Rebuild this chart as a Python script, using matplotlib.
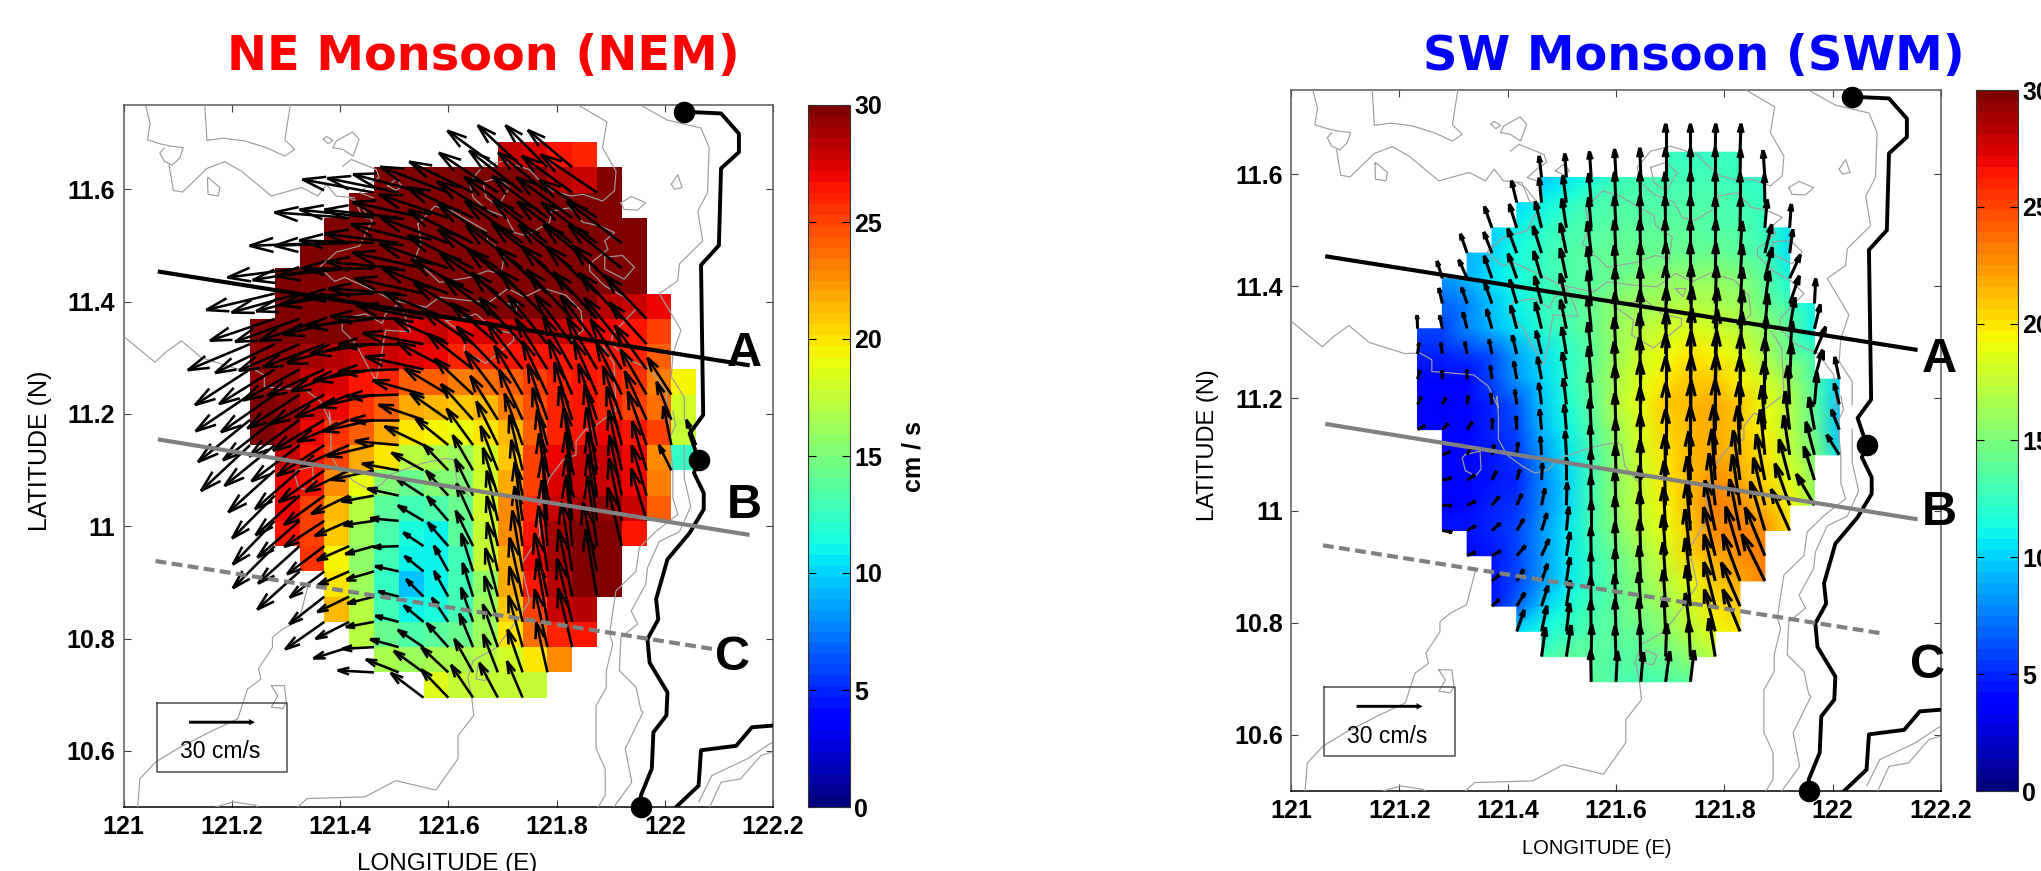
import matplotlib
matplotlib.use("Agg")
import matplotlib.pyplot as plt
import numpy as np
from matplotlib.collections import LineCollection
from matplotlib.tri import Triangulation

# grid of the HF radar currents
lon_first = 121.2336
lon_step = 0.0458
lat_first = 10.6947
lat_step = 0.04497
n_lon = 19
n_lat = 22

# first filled column of each row, south to north
row_start = [7, 5, 4, 3, 3, 2, 1, 1, 1, 1, 0, 0, 0, 0, 0, 1, 1, 2, 3, 4, 5, 10]

# speed in cm/s, bearing in degrees clockwise from north
nem_speed = [
    [18.5, 17.5, 17.5, 17.5, 17.5],
    [16.5, 16, 16.5, 16.5, 17, 18, 20, 22.5],
    [17, 14.5, 13.5, 14, 14.5, 16, 20, 23.5, 26, 26.5],
    [21.5, 17, 13, 11, 11.5, 13, 16, 21, 25, 28, 28.5],
    [20, 16, 12.5, 9.5, 11, 13, 15.5, 22, 26.5, 28.5, 30, 30],
    [25.5, 19.5, 15.5, 13, 11, 11, 13, 17.5, 22, 27, 29, 31, 31],
    [26.5, 25, 21, 16, 13.5, 11.5, 11, 14, 17.5, 22.5, 26.5, 29, 31, 31, 26.5],
    [27, 25, 21.5, 17, 14, 13, 13.5, 14.5, 18, 22.5, 26, 28, 29, 29.5, 28, 24],
    [27, 26.5, 22.5, 19, 15, 14.5, 15, 15, 18, 22, 25, 27.5, 28, 28, 27, 23],
    [28, 26.5, 25, 22, 20, 17, 16.5, 16, 18, 21, 25, 27, 28, 28, 27, 22.5, 12.5],
    [30, 29, 27, 25.5, 24, 22, 20, 19.5, 19, 20, 21.5, 24, 26, 26.5, 27, 26.5, 25, 17.5, 12],
    [30, 29.5, 28, 27, 25.5, 24, 22, 21.5, 21, 21.5, 23, 24.5, 26, 26.5, 26, 25, 23.5, 18],
    [29.5, 29.5, 28, 27.5, 26.5, 26, 24, 24, 23, 23.5, 24, 25, 26, 26.5, 26, 25.5, 23, 19.5],
    [29.5, 29.5, 29, 28.5, 28, 28, 27.5, 27, 26, 26, 26.5, 26.5, 26.5, 26.5, 26.5, 26, 24],
    [30.5, 30, 30, 30, 29.5, 29, 27.5, 28, 27, 27.5, 28, 28.5, 28, 27.5, 27, 26.5, 25],
    [31, 31, 31, 31, 31, 31, 31, 31, 31, 31, 31, 31, 30, 28.5, 28, 27],
    [32, 32, 32, 32, 32, 32, 32, 32, 32, 32, 32, 31, 31, 31, 31],
    [33, 33, 33, 33, 33, 33, 33, 33, 32, 32, 32, 31, 31, 31],
    [34, 34, 34, 34, 34, 33, 33, 32, 32, 31, 31, 31, 31],
    [34, 34, 34, 33, 33, 33, 32, 32, 31, 31, 31],
    [33, 33, 33, 33, 32, 32, 30.5, 28.5, 28, 30.5],
    [28, 27.5, 26.5, 26],
]
nem_dir = [
    [-54, -45, -35, -29, -24],
    [-87, -69, -55, -48, -30, -22, -20, -13],
    [-107, -93, -75, -57, -43, -23, -20, -16, -13, -14],
    [-124, -116, -100, -76, -51, -35, -20, -17, -14, -10, -14],
    [-127, -115, -104, -76, -46, -30, -18, -15, -13, -12, -12, -10],
    [-131, -126, -113, -106, -78, -52, -30, -18, -13, -10, -8, -9, -12],
    [-134, -131, -126, -113, -105, -92, -57, -42, -27, -13, -8, -5, -5, -8, -14],
    [-135, -130, -122, -113, -98, -85, -60, -42, -25, -13, -8, -5, -5, -8, -12, -17],
    [-134, -131, -125, -115, -100, -78, -58, -43, -27, -18, -12, -8, -6, -9, -12, -17],
    [-131, -130, -124, -115, -102, -80, -62, -45, -31, -22, -14, -10, -8, -10, -13, -17, -27],
    [-132, -128, -126, -122, -113, -103, -85, -65, -52, -37, -27, -20, -15, -13, -12, -15, -20, -12, -22],
    [-128, -127, -125, -120, -112, -102, -90, -72, -56, -43, -33, -26, -20, -18, -19, -20, -25, -22],
    [-123, -124, -122, -118, -112, -102, -92, -75, -60, -48, -38, -31, -26, -24, -24, -27, -31, -34],
    [-122, -121, -118, -114, -110, -100, -92, -78, -63, -53, -45, -38, -33, -30, -31, -33, -37],
    [-112, -115, -113, -110, -106, -98, -90, -80, -66, -57, -50, -44, -40, -38, -38, -40, -43],
    [-108, -109, -108, -103, -96, -88, -79, -69, -60, -54, -49, -46, -44, -44, -44, -45],
    [-103, -105, -104, -99, -92, -86, -78, -70, -62, -56, -52, -49, -48, -48, -47],
    [-97, -99, -96, -90, -85, -78, -71, -64, -58, -54, -52, -52, -52, -52],
    [-92, -92, -88, -83, -76, -70, -64, -58, -55, -53, -54, -55, -54],
    [-86, -84, -84, -78, -72, -66, -60, -56, -54, -55, -58],
    [-80, -79, -76, -70, -65, -57, -53, -52, -55, -57],
    [-55, -48, -46, -51],
]

swm_speed = [
    [14, 13.5, 13, 13.5, 14],
    [13, 14, 14, 13.5, 14, 14.5, 15.5, 17],
    [10, 11.5, 12.5, 13.5, 14, 14.5, 15.5, 17, 19, 20],
    [4.5, 7, 9.5, 11.5, 13, 14, 15, 16, 18, 20, 21],
    [4.5, 6, 8, 10.5, 12.5, 14, 15.5, 17, 19, 21, 22, 23],
    [4.2, 4.5, 6, 8, 10.5, 12.5, 14.5, 16, 18, 20.5, 22, 22.5, 23],
    [4.5, 4.5, 5, 6, 8, 10.5, 13, 15, 17, 19, 21, 22.5, 23, 22.5, 20],
    [4.2, 4.2, 5, 5.5, 7.5, 10, 13, 15.5, 17.5, 19.5, 21.5, 23, 22.5, 21.5, 19.5, 16],
    [4.2, 4.2, 4.5, 5, 7.5, 10, 13, 15.5, 17.5, 20, 21.5, 22.5, 22, 20.5, 18.5, 15.5],
    [3.8, 3.8, 4.5, 5.5, 8, 10.5, 13, 15.5, 18, 20, 21.5, 22, 21.5, 20, 17.5, 15, 10.5],
    [3.8, 3.8, 4.2, 5, 6, 9, 11, 13.5, 16, 18.5, 20.5, 21.5, 22, 21, 19.5, 17, 14.5, 9.5],
    [3.8, 3.5, 3.8, 5, 6.5, 9.5, 11.5, 14, 17, 19, 21, 21.5, 22, 21, 19, 17, 14, 9.5],
    [4.2, 3.8, 4.2, 6, 8, 10, 12, 14.5, 16.5, 18.5, 20, 21, 21, 19.5, 18, 16, 13.5, 10],
    [5, 5, 5.5, 6.5, 8.5, 10.5, 12, 14, 16, 18, 19, 20, 19.5, 18.5, 16.5, 14.5, 13],
    [6, 6, 7.5, 9, 10.5, 12, 13, 14.5, 16, 17, 18, 18.5, 18, 17, 15.5, 14, 11],
    [7, 7.5, 9.5, 11, 12.5, 13.5, 14.5, 15.5, 16, 16.5, 17, 16.5, 16, 14.5, 13, 11],
    [8, 9, 10.5, 11.5, 12.5, 13.5, 14, 14.5, 15, 15.5, 15.5, 15.5, 15, 14, 11.5],
    [9, 10, 11.5, 12.5, 13.5, 14, 14.5, 14.5, 14.5, 14.5, 14.5, 14, 13, 10.5],
    [10, 11, 12, 13, 13.5, 14, 14, 14, 14, 13.5, 13.5, 12.5, 10.5],
    [10, 11, 12, 13, 13.5, 13.5, 13.5, 13.5, 13.5, 13, 12.5],
    [9.5, 10.5, 11.5, 12.5, 13, 13, 13, 13, 12.5, 12],
    [12.5, 12.5, 12.5, 12.5],
]
swm_dir = [
    [-1, 3, 5, 8, 7],
    [8, 9, 1, -2, -2, 2, -3, -10],
    [20, 12, 7, -1, -2, -4, -3, -8, -15, -23],
    [48, 32, 18, 9, -1, -3, -4, -4, -6, -15, -24],
    [52, 32, 20, 9, -1, -2, -3, -4, -7, -14, -21, -27],
    [68, 62, 42, 25, 9, -1, -2, -2, -4, -7, -14, -17, -23],
    [100, 62, 50, 32, 18, 6, 0, -2, -2, -3, -5, -12, -12, -17, -25],
    [92, 65, 40, 25, 12, 2, -1, -2, -2, -2, -4, -7, -9, -14, -20, -31],
    [78, 57, 27, 17, 3, 0, -1, -1, -1, -1, -2, -4, -8, -11, -15, -18],
    [68, 28, 13, 6, -4, -3, -2, -1, -1, 0, 0, -2, -3, -6, -9, -15, -33],
    [62, 45, 35, 3, -3, -6, -5, -3, -2, -1, 0, 1, 0, -1, -4, -7, -10, -22],
    [28, 28, 8, -6, -8, -8, -7, -4, -2, -1, 0, 1, 1, 0, -1, -3, 5, -14],
    [15, -2, -2, -7, -10, -11, -9, -5, -3, -2, 0, 1, 2, 1, 0, 3, 16, -12],
    [8, -8, -12, -12, -14, -14, -10, -6, -3, -2, 1, 2, 3, 3, 2, 5, 23],
    [-2, -12, -15, -16, -15, -14, -12, -6, -2, -1, 1, 2, 3, 4, 5, 10, 14],
    [-13, -20, -20, -17, -15, -12, -6, -2, -1, 0, 1, 2, 4, 8, 20, 3],
    [-18, -25, -20, -20, -17, -12, -7, -3, -1, 0, 0, 1, 4, 14, 25],
    [-20, -22, -21, -18, -12, -7, -3, -2, -1, 0, 1, 4, 14, 8],
    [-20, -18, -14, -9, -5, -3, -2, -1, 0, 0, 1, 5, 4],
    [-14, -6, -8, -5, -3, -2, -1, 0, 0, 0, -1],
    [-7, -4, -4, -3, -2, 0, 0, 0, 1, -4],
    [0, 0, 1, 2],
]

# thin grey depth contours, lon then lat
contours = [
    ([121.150, 121.154, 121.184, 121.224, 121.264, 121.298, 121.316, 121.298, 121.308],
     [11.75, 11.687, 11.691, 11.686, 11.674, 11.659, 11.671, 11.688, 11.75]),
    ([121.041, 121.049, 121.044, 121.067, 121.086, 121.110, 121.104, 121.090, 121.075, 121.067, 121.075],
     [11.748, 11.717, 11.688, 11.681, 11.677, 11.674, 11.656, 11.643, 11.650, 11.665, 11.673]),
    ([121.084, 121.092, 121.109, 121.154, 121.187, 121.218, 121.273, 121.329, 121.359, 121.375, 121.392, 121.426, 121.441, 121.459],
     [11.643, 11.598, 11.595, 11.637, 11.649, 11.632, 11.588, 11.603, 11.588, 11.609, 11.588, 11.585, 11.550, 11.547]),
    ([121.416, 121.433, 121.459, 121.436, 121.393, 121.362, 121.390, 121.409, 121.461, 121.498, 121.559, 121.584, 121.633, 121.676, 121.710, 121.741, 121.775, 121.818, 121.845, 121.849, 121.827],
     [11.585, 11.576, 11.544, 11.499, 11.488, 11.461, 11.436, 11.443, 11.420, 11.402, 11.390, 11.408, 11.402, 11.399, 11.423, 11.408, 11.424, 11.411, 11.384, 11.349, 11.331]),
    ([121.544, 121.575, 121.608, 121.621, 121.670, 121.673, 121.704, 121.698, 121.673, 121.639, 121.603, 121.584, 121.538, 121.550, 121.544],
     [11.538, 11.570, 11.561, 11.553, 11.526, 11.508, 11.488, 11.449, 11.455, 11.443, 11.437, 11.434, 11.476, 11.505, 11.538]),
    ([121.84, 121.893, 121.885, 121.910, 121.907, 121.885, 121.849, 121.827, 121.793, 121.766, 121.750, 121.701, 121.664, 121.639, 121.646, 121.670, 121.707, 121.722, 121.744, 121.787, 121.790, 121.824, 121.849, 121.879, 121.907, 121.889, 121.895, 121.861, 121.861, 121.889, 121.925, 121.947, 121.904, 121.901, 121.935, 121.972, 122.002, 122.008],
     [11.75, 11.72, 11.674, 11.632, 11.597, 11.579, 11.591, 11.588, 11.597, 11.618, 11.635, 11.650, 11.641, 11.612, 11.585, 11.564, 11.550, 11.523, 11.517, 11.541, 11.561, 11.567, 11.541, 11.535, 11.523, 11.508, 11.493, 11.467, 11.455, 11.428, 11.408, 11.387, 11.343, 11.325, 11.295, 11.281, 11.242, 11.177]),
    ([121.664, 121.692, 121.713, 121.692, 121.670, 121.664], [11.612, 11.621, 11.603, 11.570, 11.585, 11.612]),
    ([121.889, 121.922, 121.944, 121.925, 121.889, 121.889], [11.479, 11.482, 11.461, 11.440, 11.458, 11.479]),
    ([121.919, 121.938, 121.965, 121.950, 121.925, 121.919], [11.576, 11.587, 11.576, 11.563, 11.564, 11.576]),
    ([122.012, 122.024, 122.032, 122.018, 122.012], [11.609, 11.626, 11.603, 11.600, 11.609]),
    ([121.710, 121.729, 121.724, 121.710], [11.396, 11.396, 11.381, 11.396]),
    ([121.369, 121.375, 121.387, 121.378, 121.369], [11.689, 11.694, 11.687, 11.681, 11.689]),
    ([121.387, 121.393, 121.423, 121.435, 121.424, 121.405, 121.387], [11.674, 11.686, 11.702, 11.689, 11.659, 11.671, 11.674]),
    ([121.405, 121.421, 121.467, 121.472, 121.458, 121.436, 121.461], [11.641, 11.653, 11.635, 11.621, 11.612, 11.594, 11.585]),
    ([121.488, 121.504, 121.514, 121.504, 121.488], [11.606, 11.618, 11.606, 11.598, 11.606]),
    ([121.155, 121.156, 121.178, 121.175, 121.156, 121.155], [11.618, 11.621, 11.603, 11.588, 11.591, 11.618]),
    ([121.959, 122.005, 122.067, 122.082, 122.079, 122.061, 122.070, 122.027, 122.024, 121.990, 122.030, 122.015, 122.012, 122.036, 122.036],
     [11.748, 11.723, 11.709, 11.674, 11.594, 11.561, 11.508, 11.467, 11.437, 11.414, 11.349, 11.307, 11.266, 11.230, 11.189]),
    ([122.015, 122.020, 122.009, 122.015, 122.015, 122.024, 121.984, 121.953, 121.947, 121.910, 121.904, 121.898, 121.904, 121.892, 121.892, 121.873, 121.873, 121.89, 121.89, 121.877],
     [11.204, 11.180, 11.157, 11.100, 11.050, 11.021, 10.991, 10.962, 10.920, 10.885, 10.849, 10.808, 10.790, 10.743, 10.713, 10.680, 10.604, 10.568, 10.521, 10.5]),
    ([122.036, 122.036, 122.048, 122.027, 121.990, 121.968, 121.965, 121.938, 121.950, 121.919, 121.916, 121.947, 121.956, 121.96, 121.927, 121.939, 121.906],
     [11.145, 11.086, 11.035, 10.990, 10.973, 10.926, 10.897, 10.849, 10.826, 10.802, 10.743, 10.713, 10.672, 10.669, 10.604, 10.544, 10.5]),
    ([121.026, 121.030, 121.059, 121.100, 121.158, 121.211, 121.217, 121.229, 121.254, 121.249, 121.275, 121.275, 121.294, 121.324, 121.340],
     [10.5, 10.550, 10.580, 10.604, 10.633, 10.657, 10.675, 10.710, 10.728, 10.746, 10.784, 10.802, 10.817, 10.832, 10.891]),
    ([121.322, 121.316, 121.322, 121.341, 121.351, 121.349, 121.322], [11.100, 11.094, 11.071, 11.062, 11.074, 11.106, 11.100]),
    ([121.0, 121.058, 121.078, 121.107, 121.144, 121.21, 121.238, 121.260, 121.260, 121.300, 121.337, 121.364, 121.383, 121.380, 121.383, 121.383, 121.398, 121.426, 121.450, 121.475, 121.493, 121.552, 121.595, 121.610, 121.616, 121.638],
     [11.338, 11.292, 11.31, 11.33, 11.30, 11.28, 11.281, 11.269, 11.248, 11.245, 11.242, 11.222, 11.183, 11.204, 11.168, 11.127, 11.100, 11.080, 11.067, 11.073, 11.092, 11.112, 11.121, 11.118, 11.080, 11.053]),
    ([121.404, 121.413, 121.447, 121.478, 121.484, 121.509, 121.521, 121.530, 121.484, 121.481, 121.475, 121.466, 121.448, 121.429, 121.404, 121.404],
     [11.366, 11.372, 11.378, 11.361, 11.378, 11.396, 11.372, 11.346, 11.349, 11.331, 11.295, 11.260, 11.290, 11.325, 11.349, 11.366]),
    ([121.595, 121.632, 121.629, 121.669, 121.706, 121.721, 121.721, 121.687, 121.651, 121.632, 121.595],
     [11.366, 11.340, 11.313, 11.290, 11.319, 11.331, 11.343, 11.349, 11.378, 11.372, 11.366]),
    ([121.886, 121.906, 121.91, 121.861, 121.855, 121.836, 121.836, 121.812, 121.787, 121.766, 121.769, 121.735, 121.750, 121.726, 121.689, 121.646, 121.636, 121.643, 121.647, 121.618, 121.618, 121.577, 121.503, 121.446, 121.339, 121.322],
     [11.32, 11.29, 11.207, 11.171, 11.174, 11.151, 11.127, 11.118, 11.086, 11.033, 10.985, 10.932, 10.867, 10.831, 10.784, 10.761, 10.731, 10.698, 10.663, 10.627, 10.586, 10.530, 10.547, 10.518, 10.515, 10.5]),
    ([121.655, 121.676, 121.668, 121.651, 121.655], [10.751, 10.742, 10.725, 10.728, 10.751]),
    ([121.17, 121.203, 121.244, 121.248], [10.5, 10.509, 10.503, 10.5]),
    ([121.273, 121.297, 121.301, 121.294, 121.273, 121.285, 121.273], [10.716, 10.716, 10.686, 10.675, 10.678, 10.698, 10.716]),
    ([122.063, 122.087, 122.153, 122.198], [10.509, 10.556, 10.586, 10.615]),
    ([122.083, 122.104, 122.14, 122.178, 122.2], [10.5, 10.544, 10.55, 10.592, 10.598]),
]

# thick black 0 m line
coast_lon = [122.036, 122.104, 122.137, 122.137, 122.104, 122.100, 122.067, 122.071, 122.046, 122.0625, 122.054, 122.072, 122.072, 122.046, 122.005, 121.984, 121.988, 121.968, 121.972, 122.005, 122.003, 121.979, 121.976, 121.956, 121.956]
coast_lat = [11.738, 11.735, 11.699, 11.666, 11.637, 11.5, 11.465, 11.198, 11.165, 11.118, 11.095, 11.059, 11.03, 10.988, 10.941, 10.87, 10.834, 10.799, 10.757, 10.704, 10.663, 10.633, 10.568, 10.521, 10.5]
south_lon = [122.021, 122.0625, 122.067, 122.132, 122.161, 122.2]
south_lat = [10.5, 10.538, 10.601, 10.609, 10.642, 10.645]
station_lon = [122.036, 122.0625, 121.956]
station_lat = [11.738, 11.117, 10.5]

# sections
sec_lon = [121.067, 122.153]
sec_a_lat = [11.453, 11.287]
sec_b_lat = [11.154, 10.985]
sec_c_lon = [121.059, 122.091]
sec_c_lat = [10.938, 10.781]

x_ticks = [121, 121.2, 121.4, 121.6, 121.8, 122, 122.2]
x_labels = ["121", "121.2", "121.4", "121.6", "121.8", "122", "122.2"]
y_ticks = [10.6, 10.8, 11, 11.2, 11.4, 11.6]
y_labels = ["10.6", "10.8", "11", "11.2", "11.4", "11.6"]
bar_ticks = [0, 5, 10, 15, 20, 25, 30]

WIDTH = 2041
HEIGHT = 871
DEG_PER_CMS = 0.122 / 30
cmap = plt.get_cmap("jet", 64)

plt.rcParams["font.family"] = ["Liberation Sans", "DejaVu Sans"]


def to_grid(rows):
    grid = np.full((n_lat, n_lon), np.nan)
    for j, row in enumerate(rows):
        grid[j, row_start[j]:row_start[j] + len(row)] = row
    return grid


def px_axes(fig, x0, y0, x1, y1):
    return fig.add_axes([x0 / WIDTH, 1 - y1 / HEIGHT, (x1 - x0) / WIDTH, (y1 - y0) / HEIGHT])


def draw_arrows(ax, speed, bearing, lw):
    lon = lon_first + lon_step * np.arange(n_lon)
    lat = lat_first + lat_step * np.arange(n_lat)
    segs = []
    for j in range(n_lat):
        for i in range(n_lon):
            if np.isnan(speed[j, i]):
                continue
            b = np.radians(bearing[j, i])
            dx = speed[j, i] * np.sin(b) * DEG_PER_CMS
            dy = speed[j, i] * np.cos(b) * DEG_PER_CMS
            tip = (lon[i] + dx, lat[j] + dy)
            segs.append([(lon[i], lat[j]), tip])
            for side in (-1, 1):
                a = np.radians(16) * side
                bx = -0.33 * (dx * np.cos(a) - dy * np.sin(a))
                by = -0.33 * (dx * np.sin(a) + dy * np.cos(a))
                segs.append([tip, (tip[0] + bx, tip[1] + by)])
    ax.add_collection(LineCollection(segs, colors="k", linewidths=lw, zorder=4))


def base_map(ax):
    for c_lon, c_lat in contours:
        ax.plot(c_lon, c_lat, color="0.62", lw=0.85, zorder=3)
    ax.plot(coast_lon, coast_lat, color="k", lw=2.8, zorder=5)
    ax.plot(south_lon, south_lat, color="k", lw=2.8, zorder=5)
    ax.plot(station_lon, station_lat, "o", color="k", ms=14.5, clip_on=False, zorder=7)
    ax.plot(sec_lon, sec_a_lat, color="k", lw=3, zorder=6)
    ax.plot(sec_lon, sec_b_lat, color="0.5", lw=3, zorder=6)
    ax.plot(sec_c_lon, sec_c_lat, color="0.5", lw=3, ls=(0, (2.6, 1.3)), zorder=6)
    ax.plot([121.061, 121.302, 121.302, 121.061, 121.061], [10.686, 10.686, 10.562, 10.562, 10.686],
            color="0.3", lw=1.1, zorder=5)
    ax.quiver([121.121], [10.651], [30], [0], angles="xy", scale_units="xy", scale=1 / DEG_PER_CMS,
              width=0.0045, headwidth=2.2, headlength=2.2, headaxislength=2, color="k", zorder=6)
    ax.text(121.178, 10.598, "30 cm/s", ha="center", va="center", fontsize=16.5, zorder=6)
    ax.set_xlim(121, 122.2)
    ax.set_ylim(10.5, 11.75)
    ax.set_xticks(x_ticks)
    ax.set_xticklabels(x_labels, fontsize=18, fontweight="bold")
    ax.set_yticks(y_ticks)
    ax.set_yticklabels(y_labels, fontsize=18, fontweight="bold")
    ax.tick_params(direction="in", length=5, width=0.8, top=True, right=True, color="0.25", pad=6)
    for s in ax.spines.values():
        s.set_color("0.35")
        s.set_linewidth(1.1)
    ax.spines["bottom"].set_color("k")


def colorbar(fig, cax, mesh):
    cb = fig.colorbar(mesh, cax=cax)
    cb.set_ticks(bar_ticks)
    cb.ax.set_yticklabels([str(t) for t in bar_ticks], fontsize=18, fontweight="bold")
    cb.ax.tick_params(direction="in", length=6, width=0.8, left=True, right=True, color="k", pad=3)
    cb.outline.set_edgecolor("0.2")
    return cb


def section_label(ax, lon, lat, name):
    ax.text(lon, lat, name, fontsize=35, fontweight="bold", ha="center", va="center", zorder=8, clip_on=False)


fig = plt.figure(figsize=(WIDTH / 100, HEIGHT / 100), dpi=100, facecolor="white")

# NE monsoon, flat cells
ax1 = px_axes(fig, 123.6, 105, 773, 807)
speed1 = to_grid(nem_speed)
dir1 = to_grid(nem_dir)
lon_edges = lon_first + lon_step * np.arange(n_lon)
lat_edges = lat_first + lat_step * np.arange(n_lat + 1)
mesh1 = ax1.pcolormesh(lon_edges, lat_edges, np.ma.masked_invalid(speed1[:, :-1]), cmap=cmap,
                       vmin=0, vmax=30, zorder=1)
draw_arrows(ax1, speed1, dir1, 1.85)
base_map(ax1)
ax1.set_xlabel("LONGITUDE (E)", fontsize=17.5, va="center")
ax1.xaxis.set_label_coords(0.4985, -0.0816)
ax1.set_ylabel("LATITUDE (N)", fontsize=18, va="center")
ax1.yaxis.set_label_coords(-0.128, 0.507)
fig.text(483 / WIDTH, 1 - 57 / HEIGHT, "NE Monsoon (NEM)", color="red", fontsize=34.5, fontweight="bold",
         family="DejaVu Sans", ha="center", va="center")
section_label(ax1, 122.147, 11.308, "A")
section_label(ax1, 122.147, 11.036, "B")
section_label(ax1, 122.125, 10.766, "C")
cax1 = px_axes(fig, 808, 105, 850, 807)
cb1 = colorbar(fig, cax1, mesh1)
cb1.set_label("cm / s", fontsize=18, fontweight="bold", labelpad=14)

# SW monsoon, interpolated cells
ax2 = px_axes(fig, 1291, 90, 1941, 791)
speed2 = to_grid(swm_speed)
dir2 = to_grid(swm_dir)
lon_nodes, lat_nodes = np.meshgrid(lon_first + lon_step * np.arange(n_lon), lat_first + lat_step * np.arange(n_lat))
triangles = []
for j in range(n_lat - 1):
    for i in range(n_lon - 1):
        corners = [(j, i), (j, i + 1), (j + 1, i + 1), (j + 1, i)]
        if not any(np.isnan(speed2[c]) for c in corners):
            a, b, c, d = [jj * n_lon + ii for jj, ii in corners]
            triangles += [[a, b, c], [a, c, d]]
tri = Triangulation(lon_nodes.ravel(), lat_nodes.ravel(), triangles)
mesh2 = ax2.tripcolor(tri, np.nan_to_num(speed2).ravel(), shading="gouraud", cmap=cmap, vmin=0, vmax=30, zorder=1)
draw_arrows(ax2, speed2, dir2, 2.2)
base_map(ax2)
ax2.set_xlabel("LONGITUDE (E)", fontsize=14.5, va="center")
ax2.xaxis.set_label_coords(0.471, -0.0816)
ax2.set_ylabel("LATITUDE (N)", fontsize=17, va="center")
ax2.yaxis.set_label_coords(-0.128, 0.4935)
fig.text(1694 / WIDTH, 1 - 57 / HEIGHT, "SW Monsoon (SWM)", color="blue", fontsize=34.5, fontweight="bold",
         family="DejaVu Sans", ha="center", va="center")
section_label(ax2, 122.197, 11.269, "A")
section_label(ax2, 122.197, 10.997, "B")
section_label(ax2, 122.175, 10.724, "C")
cax2 = px_axes(fig, 1976, 90, 2018, 791)
colorbar(fig, cax2, mesh2)

fig.savefig("out.png", dpi=100)
